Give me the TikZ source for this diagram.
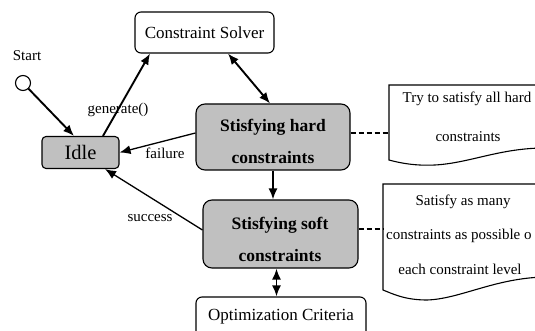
\documentclass[tikz,border=0pt]{standalone}
\usepackage{fontspec}
\setmainfont{Liberation Serif}
\usetikzlibrary{arrows.meta}
\newcommand{\fsz}[1]{\fontsize{#1}{#1}\selectfont}
\begin{document}
\begin{tikzpicture}[x=1pt,y=-1pt,
  wbox/.style={draw, line width=1.1pt, fill=white, inner sep=0pt},
  gbox/.style={draw, line width=1.1pt, fill=gray75, inner sep=0pt},
  arr/.style={line width=1.9pt, -{Latex[length=11pt,width=9pt]}},
  darr/.style={line width=1.9pt, {Latex[length=11pt,width=9pt]}-{Latex[length=11pt,width=9pt]}},
  tarr/.style={line width=1.3pt, -{Latex[length=11pt,width=9pt]}},
  dline/.style={line width=2pt, dash pattern=on 5pt off 3pt},
  lab/.style={font=\fsz{15}, inner sep=0pt},
  note/.style={draw, line width=1.1pt, fill=white},
  btext/.style={font={\bfseries\fontsize{17.5}{32}\selectfont}, align=center, inner sep=0pt}
]
\definecolor{gray75}{RGB}{192,192,192}
\useasboundingbox (0,0) rectangle (535,331);
\clip (0,0) rectangle (535,331);

% notes
\draw[note] (389,160) -- (389,85) -- (545,85) -- (545,148)
  .. controls (500,148) and (470,163) .. (435,165)
  .. controls (415,166) and (400,163) .. (389,160) -- cycle;
\draw[note] (383,290) -- (383,184) -- (545,184) -- (545,277)
  .. controls (495,278) and (460,299) .. (427,300)
  .. controls (405,300) and (393,294) .. (383,290) -- cycle;
\coordinate (n1) at (389,133);
\coordinate (n2) at (383,229);
\node[lab] (n1a) at (467,99) {Try to satisfy all hard};
\node[lab] (n1b) at (468,137) {constraints};
\node[lab] (n2a) at (463,202) {Satisfy as many};
\node[lab, anchor=west] (n2b) at (386,236) {constraints as possible o};
\node[lab] (n2c) at (460,269) {each constraint level};

% nodes
\node[wbox, minimum width=139pt, minimum height=41pt, rounded corners=6pt, font=\fsz{17}] (cs) at (204.5,32.5) {Constraint Solver};
\node[circle, draw, line width=1.1pt, minimum size=15pt, inner sep=0pt] (start) at (23,83) {};
\node[lab] (startl) at (27,56) {Start};
\node[gbox, minimum width=77pt, minimum height=32pt, rounded corners=4pt, font=\fsz{20.5}] (idle) at (80.5,152.5) {Idle};
\node[gbox, minimum width=154pt, minimum height=66pt, rounded corners=9pt] (hard) at (273,137) {};
\node[btext] (hardt) at (273,141.5) {Stisfying hard\\constraints};
\node[gbox, minimum width=155pt, minimum height=68pt, rounded corners=9pt] (soft) at (280.5,234) {};
\node[btext] (softt) at (280,239) {Stisfying soft\\constraints};
\node[wbox, minimum width=170pt, minimum height=40pt, rounded corners=6pt, font=\fsz{17}] (opt) at (281,317) {Optimization Criteria};

% connectors
\draw[arr] (start) -- ([xshift=-6.5pt]idle.north);
\draw[arr] ([xshift=22.5pt]idle.north) -- ([xshift=-54.5pt]cs.south);
\node[lab] (genl) at (118,110) {generate()};
\draw[darr] ([xshift=23.5pt]cs.south) -- ([xshift=-3pt]hard.north);
\draw[tarr] ([yshift=4pt]hard.west) -- (idle.east);
\node[lab] (faill) at (165,153) {failure};
\draw[arr] (hard.south) -- (hard.south |- soft.north);
\draw[tarr] ([yshift=4pt]soft.west) -- ([xshift=24.5pt]idle.south);
\node[lab] (succl) at (150,218) {success};
\draw[darr] ([xshift=-4pt]soft.south) -- ([xshift=-4pt]soft.south |- opt.north);
\draw[dline] ([yshift=4pt]hard.east) -- (n1);
\draw[dline] ([yshift=5pt]soft.east) -- (n2);
\end{tikzpicture}
\end{document}
